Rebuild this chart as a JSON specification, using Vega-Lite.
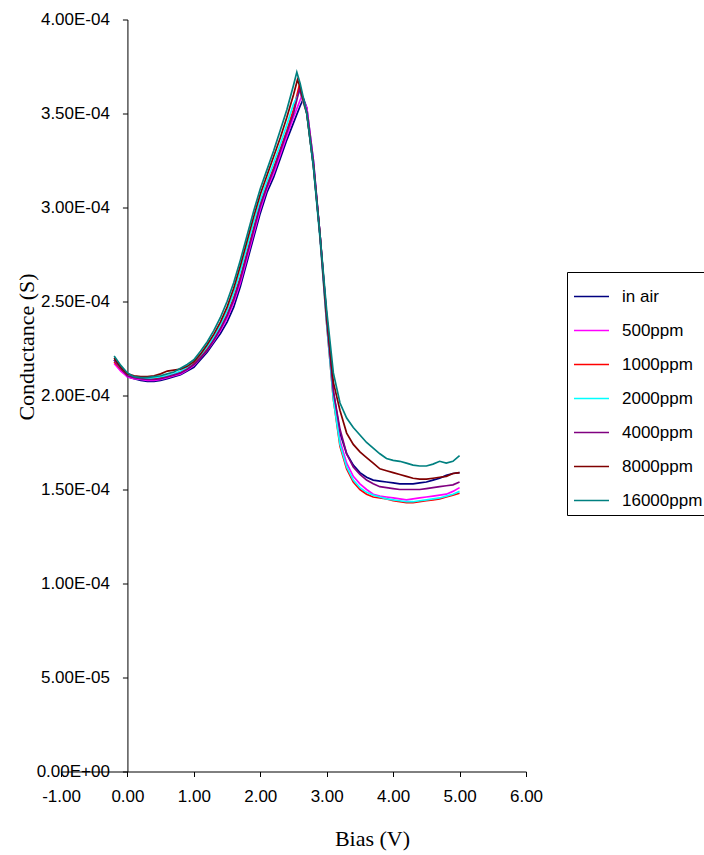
{
"$schema":"https://vega.github.io/schema/vega-lite/v6.json",
"width":465,"height":752,
"autosize":{"type":"none"},
"padding":{"left":61,"top":19.5,"right":178,"bottom":83.5},
"background":"white",
"config":{"view":{"stroke":null},"font":"Liberation Sans"},
"data":{"values":[
{"s":"in air","x":-0.2,"g":2.19e-4},{"s":"in air","x":-0.1,"g":2.14e-4},{"s":"in air","x":0.0,"g":2.10e-4},{"s":"in air","x":0.1,"g":2.09e-4},{"s":"in air","x":0.2,"g":2.08e-4},{"s":"in air","x":0.3,"g":2.075e-4},{"s":"in air","x":0.4,"g":2.075e-4},{"s":"in air","x":0.5,"g":2.08e-4},{"s":"in air","x":0.6,"g":2.09e-4},{"s":"in air","x":0.7,"g":2.10e-4},{"s":"in air","x":0.8,"g":2.11e-4},{"s":"in air","x":0.9,"g":2.13e-4},{"s":"in air","x":1.0,"g":2.15e-4},{"s":"in air","x":1.1,"g":2.19e-4},{"s":"in air","x":1.2,"g":2.23e-4},{"s":"in air","x":1.3,"g":2.28e-4},{"s":"in air","x":1.4,"g":2.33e-4},{"s":"in air","x":1.5,"g":2.39e-4},{"s":"in air","x":1.6,"g":2.47e-4},{"s":"in air","x":1.7,"g":2.58e-4},{"s":"in air","x":1.8,"g":2.71e-4},{"s":"in air","x":1.9,"g":2.84e-4},{"s":"in air","x":2.0,"g":2.97e-4},{"s":"in air","x":2.1,"g":3.08e-4},{"s":"in air","x":2.2,"g":3.16e-4},{"s":"in air","x":2.3,"g":3.26e-4},{"s":"in air","x":2.4,"g":3.36e-4},{"s":"in air","x":2.5,"g":3.45e-4},{"s":"in air","x":2.6,"g":3.54e-4},{"s":"in air","x":2.65,"g":3.58e-4},{"s":"in air","x":2.7,"g":3.53e-4},{"s":"in air","x":2.8,"g":3.25e-4},{"s":"in air","x":2.9,"g":2.85e-4},{"s":"in air","x":3.0,"g":2.42e-4},{"s":"in air","x":3.1,"g":2.02e-4},{"s":"in air","x":3.2,"g":1.80e-4},{"s":"in air","x":3.3,"g":1.69e-4},{"s":"in air","x":3.4,"g":1.63e-4},{"s":"in air","x":3.5,"g":1.59e-4},{"s":"in air","x":3.6,"g":1.565e-4},{"s":"in air","x":3.7,"g":1.55e-4},{"s":"in air","x":3.8,"g":1.545e-4},{"s":"in air","x":3.9,"g":1.54e-4},{"s":"in air","x":4.0,"g":1.535e-4},{"s":"in air","x":4.1,"g":1.53e-4},{"s":"in air","x":4.2,"g":1.53e-4},{"s":"in air","x":4.3,"g":1.53e-4},{"s":"in air","x":4.4,"g":1.535e-4},{"s":"in air","x":4.5,"g":1.54e-4},{"s":"in air","x":4.6,"g":1.55e-4},{"s":"in air","x":4.7,"g":1.56e-4},{"s":"in air","x":4.8,"g":1.575e-4},{"s":"in air","x":4.9,"g":1.585e-4},{"s":"in air","x":5.0,"g":1.59e-4},

{"s":"500ppm","x":-0.2,"g":2.17e-4},{"s":"500ppm","x":-0.1,"g":2.13e-4},{"s":"500ppm","x":0.0,"g":2.10e-4},{"s":"500ppm","x":0.1,"g":2.09e-4},{"s":"500ppm","x":0.2,"g":2.085e-4},{"s":"500ppm","x":0.3,"g":2.08e-4},{"s":"500ppm","x":0.4,"g":2.08e-4},{"s":"500ppm","x":0.5,"g":2.085e-4},{"s":"500ppm","x":0.6,"g":2.095e-4},{"s":"500ppm","x":0.7,"g":2.105e-4},{"s":"500ppm","x":0.8,"g":2.115e-4},{"s":"500ppm","x":0.9,"g":2.135e-4},{"s":"500ppm","x":1.0,"g":2.16e-4},{"s":"500ppm","x":1.1,"g":2.20e-4},{"s":"500ppm","x":1.2,"g":2.24e-4},{"s":"500ppm","x":1.3,"g":2.29e-4},{"s":"500ppm","x":1.4,"g":2.345e-4},{"s":"500ppm","x":1.5,"g":2.41e-4},{"s":"500ppm","x":1.6,"g":2.495e-4},{"s":"500ppm","x":1.7,"g":2.60e-4},{"s":"500ppm","x":1.8,"g":2.73e-4},{"s":"500ppm","x":1.9,"g":2.86e-4},{"s":"500ppm","x":2.0,"g":2.99e-4},{"s":"500ppm","x":2.1,"g":3.10e-4},{"s":"500ppm","x":2.2,"g":3.18e-4},{"s":"500ppm","x":2.3,"g":3.28e-4},{"s":"500ppm","x":2.4,"g":3.38e-4},{"s":"500ppm","x":2.5,"g":3.48e-4},{"s":"500ppm","x":2.62,"g":3.59e-4},{"s":"500ppm","x":2.7,"g":3.53e-4},{"s":"500ppm","x":2.8,"g":3.24e-4},{"s":"500ppm","x":2.9,"g":2.85e-4},{"s":"500ppm","x":3.0,"g":2.40e-4},{"s":"500ppm","x":3.1,"g":2.00e-4},{"s":"500ppm","x":3.2,"g":1.76e-4},{"s":"500ppm","x":3.3,"g":1.64e-4},{"s":"500ppm","x":3.4,"g":1.57e-4},{"s":"500ppm","x":3.5,"g":1.53e-4},{"s":"500ppm","x":3.6,"g":1.50e-4},{"s":"500ppm","x":3.7,"g":1.475e-4},{"s":"500ppm","x":3.8,"g":1.465e-4},{"s":"500ppm","x":3.9,"g":1.46e-4},{"s":"500ppm","x":4.0,"g":1.455e-4},{"s":"500ppm","x":4.1,"g":1.45e-4},{"s":"500ppm","x":4.2,"g":1.445e-4},{"s":"500ppm","x":4.3,"g":1.45e-4},{"s":"500ppm","x":4.4,"g":1.455e-4},{"s":"500ppm","x":4.5,"g":1.46e-4},{"s":"500ppm","x":4.6,"g":1.465e-4},{"s":"500ppm","x":4.7,"g":1.47e-4},{"s":"500ppm","x":4.8,"g":1.475e-4},{"s":"500ppm","x":4.9,"g":1.49e-4},{"s":"500ppm","x":5.0,"g":1.51e-4},

{"s":"1000ppm","x":-0.2,"g":2.18e-4},{"s":"1000ppm","x":-0.1,"g":2.14e-4},{"s":"1000ppm","x":0.0,"g":2.11e-4},{"s":"1000ppm","x":0.1,"g":2.10e-4},{"s":"1000ppm","x":0.2,"g":2.095e-4},{"s":"1000ppm","x":0.3,"g":2.09e-4},{"s":"1000ppm","x":0.4,"g":2.09e-4},{"s":"1000ppm","x":0.5,"g":2.095e-4},{"s":"1000ppm","x":0.6,"g":2.10e-4},{"s":"1000ppm","x":0.7,"g":2.11e-4},{"s":"1000ppm","x":0.8,"g":2.125e-4},{"s":"1000ppm","x":0.9,"g":2.145e-4},{"s":"1000ppm","x":1.0,"g":2.17e-4},{"s":"1000ppm","x":1.1,"g":2.21e-4},{"s":"1000ppm","x":1.2,"g":2.25e-4},{"s":"1000ppm","x":1.3,"g":2.30e-4},{"s":"1000ppm","x":1.4,"g":2.36e-4},{"s":"1000ppm","x":1.5,"g":2.43e-4},{"s":"1000ppm","x":1.6,"g":2.52e-4},{"s":"1000ppm","x":1.7,"g":2.63e-4},{"s":"1000ppm","x":1.8,"g":2.76e-4},{"s":"1000ppm","x":1.9,"g":2.89e-4},{"s":"1000ppm","x":2.0,"g":3.02e-4},{"s":"1000ppm","x":2.1,"g":3.12e-4},{"s":"1000ppm","x":2.2,"g":3.21e-4},{"s":"1000ppm","x":2.3,"g":3.31e-4},{"s":"1000ppm","x":2.4,"g":3.41e-4},{"s":"1000ppm","x":2.5,"g":3.52e-4},{"s":"1000ppm","x":2.58,"g":3.64e-4},{"s":"1000ppm","x":2.7,"g":3.50e-4},{"s":"1000ppm","x":2.8,"g":3.22e-4},{"s":"1000ppm","x":2.9,"g":2.84e-4},{"s":"1000ppm","x":3.0,"g":2.38e-4},{"s":"1000ppm","x":3.1,"g":1.98e-4},{"s":"1000ppm","x":3.2,"g":1.73e-4},{"s":"1000ppm","x":3.3,"g":1.61e-4},{"s":"1000ppm","x":3.4,"g":1.54e-4},{"s":"1000ppm","x":3.5,"g":1.50e-4},{"s":"1000ppm","x":3.6,"g":1.475e-4},{"s":"1000ppm","x":3.7,"g":1.46e-4},{"s":"1000ppm","x":3.8,"g":1.455e-4},{"s":"1000ppm","x":3.9,"g":1.45e-4},{"s":"1000ppm","x":4.0,"g":1.44e-4},{"s":"1000ppm","x":4.1,"g":1.435e-4},{"s":"1000ppm","x":4.2,"g":1.43e-4},{"s":"1000ppm","x":4.3,"g":1.43e-4},{"s":"1000ppm","x":4.4,"g":1.435e-4},{"s":"1000ppm","x":4.5,"g":1.44e-4},{"s":"1000ppm","x":4.6,"g":1.445e-4},{"s":"1000ppm","x":4.7,"g":1.45e-4},{"s":"1000ppm","x":4.8,"g":1.46e-4},{"s":"1000ppm","x":4.9,"g":1.47e-4},{"s":"1000ppm","x":5.0,"g":1.48e-4},

{"s":"2000ppm","x":-0.2,"g":2.19e-4},{"s":"2000ppm","x":-0.1,"g":2.145e-4},{"s":"2000ppm","x":0.0,"g":2.11e-4},{"s":"2000ppm","x":0.1,"g":2.10e-4},{"s":"2000ppm","x":0.2,"g":2.095e-4},{"s":"2000ppm","x":0.3,"g":2.09e-4},{"s":"2000ppm","x":0.4,"g":2.095e-4},{"s":"2000ppm","x":0.5,"g":2.10e-4},{"s":"2000ppm","x":0.6,"g":2.105e-4},{"s":"2000ppm","x":0.7,"g":2.115e-4},{"s":"2000ppm","x":0.8,"g":2.13e-4},{"s":"2000ppm","x":0.9,"g":2.15e-4},{"s":"2000ppm","x":1.0,"g":2.18e-4},{"s":"2000ppm","x":1.1,"g":2.215e-4},{"s":"2000ppm","x":1.2,"g":2.26e-4},{"s":"2000ppm","x":1.3,"g":2.31e-4},{"s":"2000ppm","x":1.4,"g":2.375e-4},{"s":"2000ppm","x":1.5,"g":2.45e-4},{"s":"2000ppm","x":1.6,"g":2.545e-4},{"s":"2000ppm","x":1.7,"g":2.66e-4},{"s":"2000ppm","x":1.8,"g":2.79e-4},{"s":"2000ppm","x":1.9,"g":2.92e-4},{"s":"2000ppm","x":2.0,"g":3.04e-4},{"s":"2000ppm","x":2.1,"g":3.14e-4},{"s":"2000ppm","x":2.2,"g":3.235e-4},{"s":"2000ppm","x":2.3,"g":3.335e-4},{"s":"2000ppm","x":2.4,"g":3.44e-4},{"s":"2000ppm","x":2.5,"g":3.55e-4},{"s":"2000ppm","x":2.6,"g":3.62e-4},{"s":"2000ppm","x":2.7,"g":3.50e-4},{"s":"2000ppm","x":2.8,"g":3.21e-4},{"s":"2000ppm","x":2.9,"g":2.83e-4},{"s":"2000ppm","x":3.0,"g":2.38e-4},{"s":"2000ppm","x":3.1,"g":1.98e-4},{"s":"2000ppm","x":3.2,"g":1.74e-4},{"s":"2000ppm","x":3.3,"g":1.62e-4},{"s":"2000ppm","x":3.4,"g":1.55e-4},{"s":"2000ppm","x":3.5,"g":1.51e-4},{"s":"2000ppm","x":3.6,"g":1.485e-4},{"s":"2000ppm","x":3.7,"g":1.47e-4},{"s":"2000ppm","x":3.8,"g":1.46e-4},{"s":"2000ppm","x":3.9,"g":1.45e-4},{"s":"2000ppm","x":4.0,"g":1.445e-4},{"s":"2000ppm","x":4.1,"g":1.44e-4},{"s":"2000ppm","x":4.2,"g":1.435e-4},{"s":"2000ppm","x":4.3,"g":1.435e-4},{"s":"2000ppm","x":4.4,"g":1.44e-4},{"s":"2000ppm","x":4.5,"g":1.445e-4},{"s":"2000ppm","x":4.6,"g":1.45e-4},{"s":"2000ppm","x":4.7,"g":1.455e-4},{"s":"2000ppm","x":4.8,"g":1.465e-4},{"s":"2000ppm","x":4.9,"g":1.475e-4},{"s":"2000ppm","x":5.0,"g":1.49e-4},

{"s":"4000ppm","x":-0.2,"g":2.19e-4},{"s":"4000ppm","x":-0.1,"g":2.145e-4},{"s":"4000ppm","x":0.0,"g":2.105e-4},{"s":"4000ppm","x":0.1,"g":2.095e-4},{"s":"4000ppm","x":0.2,"g":2.09e-4},{"s":"4000ppm","x":0.3,"g":2.085e-4},{"s":"4000ppm","x":0.4,"g":2.085e-4},{"s":"4000ppm","x":0.5,"g":2.09e-4},{"s":"4000ppm","x":0.6,"g":2.10e-4},{"s":"4000ppm","x":0.7,"g":2.11e-4},{"s":"4000ppm","x":0.8,"g":2.12e-4},{"s":"4000ppm","x":0.9,"g":2.14e-4},{"s":"4000ppm","x":1.0,"g":2.165e-4},{"s":"4000ppm","x":1.1,"g":2.20e-4},{"s":"4000ppm","x":1.2,"g":2.24e-4},{"s":"4000ppm","x":1.3,"g":2.295e-4},{"s":"4000ppm","x":1.4,"g":2.355e-4},{"s":"4000ppm","x":1.5,"g":2.425e-4},{"s":"4000ppm","x":1.6,"g":2.51e-4},{"s":"4000ppm","x":1.7,"g":2.62e-4},{"s":"4000ppm","x":1.8,"g":2.75e-4},{"s":"4000ppm","x":1.9,"g":2.88e-4},{"s":"4000ppm","x":2.0,"g":3.01e-4},{"s":"4000ppm","x":2.1,"g":3.11e-4},{"s":"4000ppm","x":2.2,"g":3.20e-4},{"s":"4000ppm","x":2.3,"g":3.30e-4},{"s":"4000ppm","x":2.4,"g":3.40e-4},{"s":"4000ppm","x":2.5,"g":3.50e-4},{"s":"4000ppm","x":2.59,"g":3.63e-4},{"s":"4000ppm","x":2.7,"g":3.51e-4},{"s":"4000ppm","x":2.8,"g":3.23e-4},{"s":"4000ppm","x":2.9,"g":2.85e-4},{"s":"4000ppm","x":3.0,"g":2.40e-4},{"s":"4000ppm","x":3.1,"g":2.02e-4},{"s":"4000ppm","x":3.2,"g":1.82e-4},{"s":"4000ppm","x":3.3,"g":1.69e-4},{"s":"4000ppm","x":3.4,"g":1.62e-4},{"s":"4000ppm","x":3.5,"g":1.58e-4},{"s":"4000ppm","x":3.6,"g":1.55e-4},{"s":"4000ppm","x":3.7,"g":1.53e-4},{"s":"4000ppm","x":3.8,"g":1.515e-4},{"s":"4000ppm","x":3.9,"g":1.51e-4},{"s":"4000ppm","x":4.0,"g":1.505e-4},{"s":"4000ppm","x":4.1,"g":1.50e-4},{"s":"4000ppm","x":4.2,"g":1.50e-4},{"s":"4000ppm","x":4.3,"g":1.50e-4},{"s":"4000ppm","x":4.4,"g":1.50e-4},{"s":"4000ppm","x":4.5,"g":1.505e-4},{"s":"4000ppm","x":4.6,"g":1.51e-4},{"s":"4000ppm","x":4.7,"g":1.515e-4},{"s":"4000ppm","x":4.8,"g":1.52e-4},{"s":"4000ppm","x":4.9,"g":1.525e-4},{"s":"4000ppm","x":5.0,"g":1.54e-4},

{"s":"8000ppm","x":-0.2,"g":2.20e-4},{"s":"8000ppm","x":-0.1,"g":2.15e-4},{"s":"8000ppm","x":0.0,"g":2.115e-4},{"s":"8000ppm","x":0.1,"g":2.105e-4},{"s":"8000ppm","x":0.2,"g":2.10e-4},{"s":"8000ppm","x":0.3,"g":2.10e-4},{"s":"8000ppm","x":0.4,"g":2.105e-4},{"s":"8000ppm","x":0.5,"g":2.115e-4},{"s":"8000ppm","x":0.6,"g":2.13e-4},{"s":"8000ppm","x":0.7,"g":2.135e-4},{"s":"8000ppm","x":0.8,"g":2.14e-4},{"s":"8000ppm","x":0.9,"g":2.155e-4},{"s":"8000ppm","x":1.0,"g":2.18e-4},{"s":"8000ppm","x":1.1,"g":2.22e-4},{"s":"8000ppm","x":1.2,"g":2.27e-4},{"s":"8000ppm","x":1.3,"g":2.325e-4},{"s":"8000ppm","x":1.4,"g":2.39e-4},{"s":"8000ppm","x":1.5,"g":2.47e-4},{"s":"8000ppm","x":1.6,"g":2.57e-4},{"s":"8000ppm","x":1.7,"g":2.69e-4},{"s":"8000ppm","x":1.8,"g":2.82e-4},{"s":"8000ppm","x":1.9,"g":2.95e-4},{"s":"8000ppm","x":2.0,"g":3.07e-4},{"s":"8000ppm","x":2.1,"g":3.17e-4},{"s":"8000ppm","x":2.2,"g":3.27e-4},{"s":"8000ppm","x":2.3,"g":3.37e-4},{"s":"8000ppm","x":2.4,"g":3.48e-4},{"s":"8000ppm","x":2.5,"g":3.60e-4},{"s":"8000ppm","x":2.56,"g":3.68e-4},{"s":"8000ppm","x":2.6,"g":3.64e-4},{"s":"8000ppm","x":2.7,"g":3.50e-4},{"s":"8000ppm","x":2.8,"g":3.22e-4},{"s":"8000ppm","x":2.9,"g":2.85e-4},{"s":"8000ppm","x":3.0,"g":2.42e-4},{"s":"8000ppm","x":3.1,"g":2.07e-4},{"s":"8000ppm","x":3.2,"g":1.92e-4},{"s":"8000ppm","x":3.3,"g":1.80e-4},{"s":"8000ppm","x":3.4,"g":1.74e-4},{"s":"8000ppm","x":3.5,"g":1.70e-4},{"s":"8000ppm","x":3.6,"g":1.67e-4},{"s":"8000ppm","x":3.7,"g":1.64e-4},{"s":"8000ppm","x":3.8,"g":1.61e-4},{"s":"8000ppm","x":3.9,"g":1.60e-4},{"s":"8000ppm","x":4.0,"g":1.59e-4},{"s":"8000ppm","x":4.1,"g":1.58e-4},{"s":"8000ppm","x":4.2,"g":1.57e-4},{"s":"8000ppm","x":4.3,"g":1.56e-4},{"s":"8000ppm","x":4.4,"g":1.555e-4},{"s":"8000ppm","x":4.5,"g":1.555e-4},{"s":"8000ppm","x":4.6,"g":1.56e-4},{"s":"8000ppm","x":4.7,"g":1.565e-4},{"s":"8000ppm","x":4.8,"g":1.57e-4},{"s":"8000ppm","x":4.9,"g":1.585e-4},{"s":"8000ppm","x":5.0,"g":1.59e-4},

{"s":"16000ppm","x":-0.2,"g":2.21e-4},{"s":"16000ppm","x":-0.1,"g":2.16e-4},{"s":"16000ppm","x":0.0,"g":2.12e-4},{"s":"16000ppm","x":0.1,"g":2.10e-4},{"s":"16000ppm","x":0.2,"g":2.095e-4},{"s":"16000ppm","x":0.3,"g":2.095e-4},{"s":"16000ppm","x":0.4,"g":2.10e-4},{"s":"16000ppm","x":0.5,"g":2.105e-4},{"s":"16000ppm","x":0.6,"g":2.115e-4},{"s":"16000ppm","x":0.7,"g":2.125e-4},{"s":"16000ppm","x":0.8,"g":2.145e-4},{"s":"16000ppm","x":0.9,"g":2.165e-4},{"s":"16000ppm","x":1.0,"g":2.19e-4},{"s":"16000ppm","x":1.1,"g":2.235e-4},{"s":"16000ppm","x":1.2,"g":2.285e-4},{"s":"16000ppm","x":1.3,"g":2.345e-4},{"s":"16000ppm","x":1.4,"g":2.415e-4},{"s":"16000ppm","x":1.5,"g":2.50e-4},{"s":"16000ppm","x":1.6,"g":2.60e-4},{"s":"16000ppm","x":1.7,"g":2.72e-4},{"s":"16000ppm","x":1.8,"g":2.85e-4},{"s":"16000ppm","x":1.9,"g":2.98e-4},{"s":"16000ppm","x":2.0,"g":3.10e-4},{"s":"16000ppm","x":2.1,"g":3.20e-4},{"s":"16000ppm","x":2.2,"g":3.30e-4},{"s":"16000ppm","x":2.3,"g":3.41e-4},{"s":"16000ppm","x":2.4,"g":3.52e-4},{"s":"16000ppm","x":2.5,"g":3.65e-4},{"s":"16000ppm","x":2.55,"g":3.72e-4},{"s":"16000ppm","x":2.6,"g":3.66e-4},{"s":"16000ppm","x":2.7,"g":3.50e-4},{"s":"16000ppm","x":2.8,"g":3.22e-4},{"s":"16000ppm","x":2.9,"g":2.85e-4},{"s":"16000ppm","x":3.0,"g":2.45e-4},{"s":"16000ppm","x":3.1,"g":2.12e-4},{"s":"16000ppm","x":3.2,"g":1.96e-4},{"s":"16000ppm","x":3.3,"g":1.88e-4},{"s":"16000ppm","x":3.4,"g":1.83e-4},{"s":"16000ppm","x":3.5,"g":1.79e-4},{"s":"16000ppm","x":3.6,"g":1.75e-4},{"s":"16000ppm","x":3.7,"g":1.72e-4},{"s":"16000ppm","x":3.8,"g":1.69e-4},{"s":"16000ppm","x":3.9,"g":1.665e-4},{"s":"16000ppm","x":4.0,"g":1.655e-4},{"s":"16000ppm","x":4.1,"g":1.65e-4},{"s":"16000ppm","x":4.2,"g":1.64e-4},{"s":"16000ppm","x":4.3,"g":1.63e-4},{"s":"16000ppm","x":4.4,"g":1.625e-4},{"s":"16000ppm","x":4.5,"g":1.625e-4},{"s":"16000ppm","x":4.6,"g":1.635e-4},{"s":"16000ppm","x":4.7,"g":1.65e-4},{"s":"16000ppm","x":4.8,"g":1.64e-4},{"s":"16000ppm","x":4.9,"g":1.65e-4},{"s":"16000ppm","x":5.0,"g":1.68e-4}
]},
"mark":{"type":"line","strokeWidth":1.7},
"encoding":{
"x":{"field":"x","type":"quantitative","scale":{"domain":[-1,6],"nice":false,"zero":false},
 "axis":{"values":[-1,0,1,2,3,4,5,6],"labelExpr":"datum.value < 0 ? '-' + format(-datum.value, '.2f') : format(datum.value, '.2f')","grid":false,"domainColor":"black","tickColor":"black","tickSize":5,"labelFont":"Liberation Sans","labelFontSize":17,"labelColor":"black","labelPadding":12,"labelFlush":false,
 "title":"Bias (V)","titleFont":"Liberation Serif","titleFontSize":22,"titleFontWeight":"normal","titleColor":"black","titleX":311,"titleY":74,"titleBaseline":"alphabetic","titleAlign":"center"}},
"y":{"field":"g","type":"quantitative","scale":{"domain":[0,0.0004],"nice":false},
 "axis":{"offset":-66.43,"values":[0,0.00005,0.0001,0.00015,0.0002,0.00025,0.0003,0.00035,0.0004],"labelExpr":"datum.value == 0 ? '0.00E+00' : (datum.value < 0.0000999 ? format(datum.value*100000, '.2f') + 'E-05' : format(datum.value*10000, '.2f') + 'E-04')","grid":false,"domainColor":"black","tickColor":"black","tickSize":5,"labelFont":"Liberation Sans","labelFontSize":17,"labelColor":"black","labelPadding":13,"labelFlush":false,
 "title":"Conductance (S)","titleFont":"Liberation Serif","titleFontSize":22,"titleFontWeight":"normal","titleColor":"black","titleX":-94,"titleY":327,"titleAngle":-90,"titleBaseline":"alphabetic","titleAlign":"center"}},
"color":{"field":"s","type":"nominal",
 "scale":{"domain":["in air","500ppm","1000ppm","2000ppm","4000ppm","8000ppm","16000ppm"],"range":["#000080","#FF00FF","#FF0000","#00FFFF","#800080","#800000","#008080"]},
 "legend":{"orient":"none","legendX":506,"legendY":252.5,"title":null,"strokeColor":"black","fillColor":"white","padding":6,"symbolType":"stroke","symbolSize":1225,"symbolStrokeWidth":1.5,"labelFont":"Liberation Sans","labelFontSize":17,"labelColor":"black","labelOffset":12,"rowPadding":7}}
}
}
